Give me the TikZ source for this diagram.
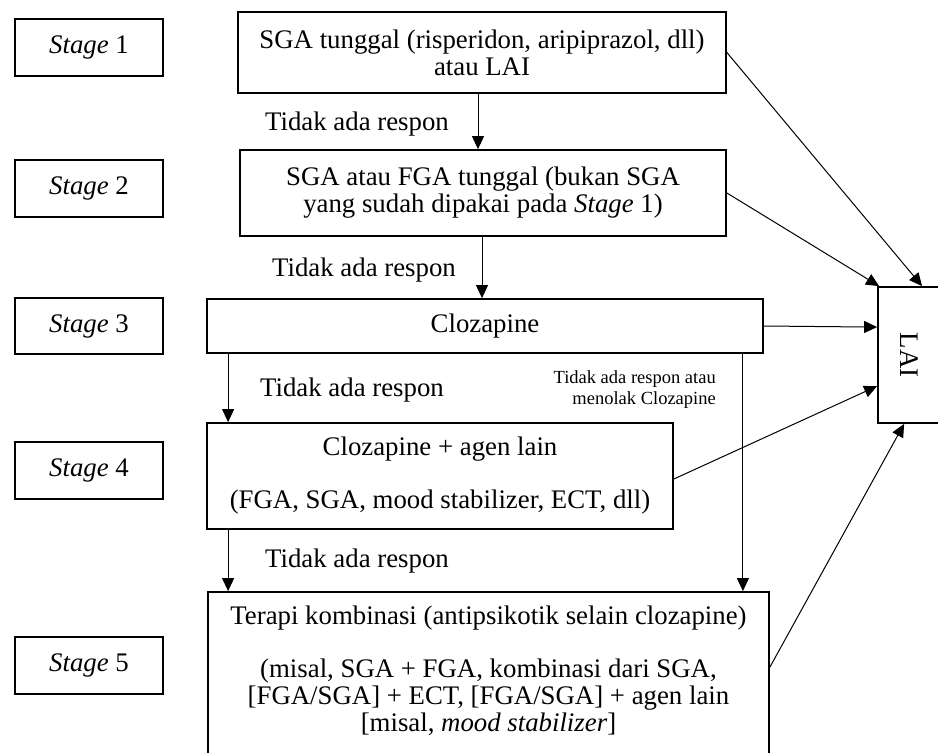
\documentclass[tikz,border=0pt]{standalone}
\usepackage{fontspec}
\setmainfont{Liberation Serif}
\usetikzlibrary{arrows.meta}
\newcommand\mainfs{\fontsize{26.8}{27}\selectfont}
\newcommand\smallfs{\fontsize{18.5}{21}\selectfont}
\begin{document}
\begin{tikzpicture}[x=1pt,y=-1pt,
  bx/.style={draw, line width=1.8pt, inner sep=0pt, align=center, font=\mainfs},
  lbl/.style={inner sep=0pt, font=\mainfs},
  arr/.style={line width=1pt, -{Triangle[length=13pt,width=12pt]}}]
\useasboundingbox (0,0) rectangle (938,753);
% stage boxes
\node[bx, minimum width=148pt, minimum height=57pt] (s1) at (89,47.5) {\textit{Stage} 1};
\node[bx, minimum width=148pt, minimum height=57pt] (s2) at (89,188.5) {\textit{Stage} 2};
\node[bx, minimum width=148pt, minimum height=56pt] (s3) at (89,326) {\textit{Stage} 3};
\node[bx, minimum width=148pt, minimum height=57pt] (s4) at (89,470.5) {\textit{Stage} 4};
\node[bx, minimum width=148pt, minimum height=57pt] (s5) at (89,665.5) {\textit{Stage} 5};
% main boxes
\node[bx, minimum width=488pt, minimum height=81pt] (b1) at (482,52.5)
  {SGA tunggal (risperidon, aripiprazol, dll)\\atau LAI};
\node[bx, minimum width=486pt, minimum height=86pt] (b2) at (483,193)
  {SGA atau FGA tunggal (bukan SGA\\yang sudah dipakai pada \textit{Stage} 1)};
\node[bx, minimum width=556pt, minimum height=54pt] (b3) at (485,326) {Clozapine};
\node[bx, minimum width=466pt, minimum height=106pt] (b4) at (440,476)
  {Clozapine + agen lain\\[26pt](FGA, SGA, mood stabilizer, ECT, dll)};
\node[bx, minimum width=561pt, minimum height=188pt] (b5) at (488.5,686) {};
\node[lbl, align=center, anchor=north] (b5t) at (488.5,606)
  {Terapi kombinasi (antipsikotik selain clozapine)\\[26pt](misal, SGA + FGA, kombinasi dari SGA,\\ {[}FGA/SGA] + ECT, [FGA/SGA] + agen lain\\ {[}misal, \textit{mood stabilizer}]};
\node[bx, minimum width=62pt, minimum height=136pt] (lai) at (909,355) {\rotatebox{-90}{LAI}};
% labels
\node[lbl, anchor=west] (r1) at (265,124) {Tidak ada respon};
\node[lbl, anchor=west] (r2) at (272,270) {Tidak ada respon};
\node[lbl, anchor=west] (r3) at (260,390) {Tidak ada respon};
\node[lbl, anchor=west] (r4) at (265,561) {Tidak ada respon};
\node[inner sep=0pt, font=\smallfs, align=right, anchor=east] (r5) at (716,389.5)
  {Tidak ada respon atau\\menolak Clozapine};
% vertical connectors
\draw[arr] ([xshift=-4pt]b1.south) -- ([xshift=-4pt]b1.south |- b2.north);
\draw[arr] ([xshift=-1pt]b2.south) -- ([xshift=-1pt]b2.south |- b3.north);
\draw[arr] ([xshift=22pt]b3.south west) -- ([xshift=22pt]b3.south west |- b4.north);
\draw[arr] ([xshift=22pt]b4.south west) -- ([xshift=22pt]b4.south west |- b5.north);
\draw[arr] ([xshift=-21pt]b3.south east) -- ([xshift=-21pt]b3.south east |- b5.north);
% connectors to LAI
\draw[arr] (b1.east) -- ([xshift=45pt]lai.north west);
\draw[arr] (b2.east) -- ([xshift=2pt]lai.north west);
\draw[arr] (b3.east) -- ([yshift=-41pt]lai.north west);
\draw[arr] ([yshift=-3pt]b4.east) -- ([yshift=-100pt]lai.north west);
\draw[arr] ([yshift=-76pt]b5.north east) -- ([xshift=27pt]lai.south west);
\end{tikzpicture}
\end{document}
